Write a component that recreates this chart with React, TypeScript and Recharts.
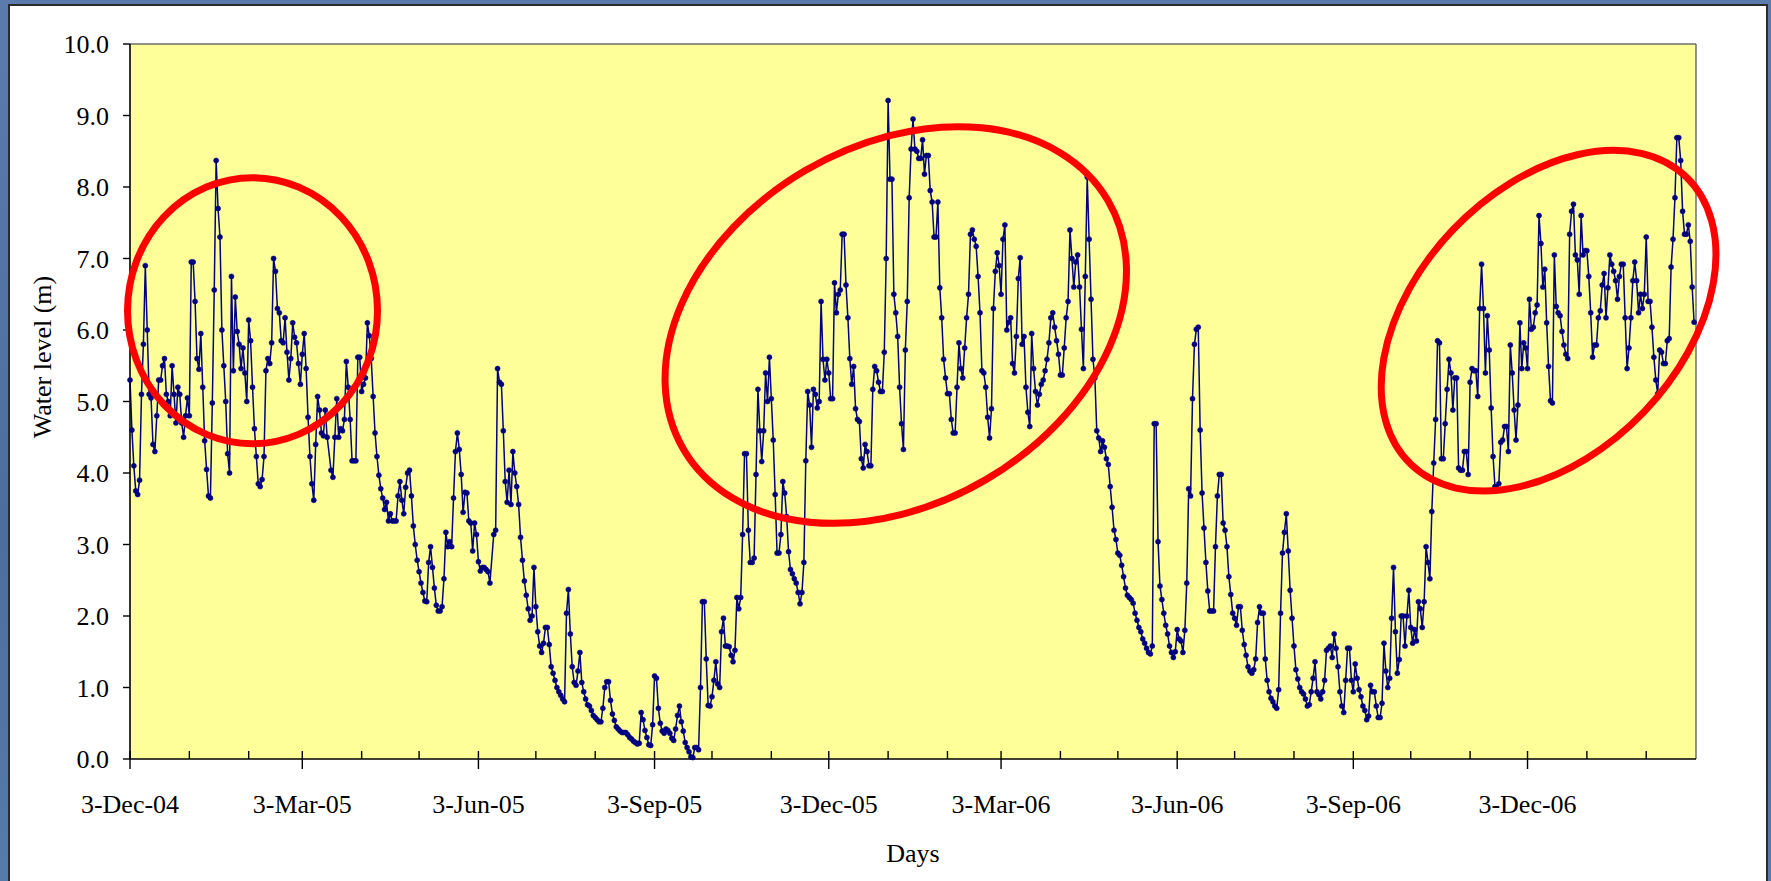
import {
  ComposedChart,
  Line,
  Scatter,
  XAxis,
  YAxis,
  CartesianGrid,
  ReferenceLine,
  Label,
} from 'recharts';

const FONT = '"Liberation Serif", "Times New Roman", serif';
const NAVY = '#000080';

// daily water level readings, [days since 3-Dec-04, level in m]
const dec04ToApr05: [number, number][] = [
  [0, 5.3], [1, 4.6], [2, 4.1], [3, 3.75], [4, 3.7], [5, 3.9], [6, 5.1], [7, 5.8], [8, 6.9], [9, 6.0],
  [10, 5.1], [11, 5.05], [12, 4.4], [13, 4.3], [14, 4.8], [15, 5.3], [16, 5.3], [17, 5.5], [18, 5.6], [19, 5.1],
  [20, 5.0], [21, 4.8], [22, 5.5], [23, 5.1], [24, 4.7], [25, 5.2], [26, 5.1], [27, 4.7], [28, 4.5], [29, 4.8],
  [30, 5.05], [31, 4.8], [32, 6.95], [33, 6.95], [34, 6.4], [35, 5.6], [36, 5.45], [37, 5.95], [38, 5.2], [39, 4.45],
  [40, 4.05], [41, 3.68], [42, 3.65], [43, 4.98], [44, 6.56], [45, 8.37], [46, 7.7], [47, 7.3], [48, 6.0], [49, 5.5],
  [50, 5.0], [51, 4.27], [52, 4.0], [53, 6.75], [54, 5.43], [55, 6.46], [56, 5.98], [57, 5.8], [58, 5.46], [59, 5.75],
  [60, 5.4], [61, 5.0], [62, 6.14], [63, 5.85], [64, 5.2], [65, 4.62], [66, 4.23], [67, 3.85], [68, 3.81], [69, 3.91],
  [70, 4.23], [71, 5.43], [72, 5.6], [73, 5.53], [74, 5.82], [75, 7.0], [76, 6.82], [77, 6.3], [78, 6.24], [79, 5.85],
  [80, 5.82], [81, 6.17], [82, 5.69], [83, 5.3], [84, 5.6], [85, 6.1], [86, 5.9], [87, 5.82], [88, 5.53], [89, 5.24],
  [90, 5.66], [91, 5.95], [92, 5.46], [93, 4.78], [94, 4.23], [95, 3.85], [96, 3.62], [97, 4.4], [98, 5.07], [99, 4.88],
  [100, 4.56], [101, 4.52], [102, 4.88], [103, 4.5], [105, 4.04], [106, 3.94], [107, 4.5], [108, 5.04], [109, 4.5],
  [110, 4.62], [111, 4.59], [112, 4.75], [113, 5.56], [114, 5.2], [115, 4.75], [116, 4.17], [117, 4.17], [118, 4.17],
  [119, 5.62], [120, 5.62], [121, 5.14], [122, 5.24], [123, 5.33], [124, 6.1], [125, 5.92], [126, 5.6], [127, 5.07],
  [128, 4.56], [129, 4.23], [130, 3.97], [131, 3.78], [132, 3.65], [133, 3.49], [134, 3.59], [135, 3.33], [136, 3.43],
  [137, 3.33],
];

const apr05ToSep05: [number, number][] = [
  [138, 3.33], [139, 3.33], [140, 3.68], [141, 3.88], [142, 3.62], [143, 3.43], [144, 3.8], [145, 4.0], [146, 4.04],
  [147, 3.68], [148, 3.26], [149, 3.0], [150, 2.78], [151, 2.62], [152, 2.46], [153, 2.33], [154, 2.21], [155, 2.2],
  [156, 2.75], [157, 2.97], [158, 2.68], [159, 2.39], [160, 2.15], [161, 2.07], [162, 2.07], [163, 2.13], [164, 2.52],
  [165, 3.17], [166, 2.97], [167, 3.04], [168, 2.97], [169, 3.65], [170, 4.3], [171, 4.56], [172, 4.33], [173, 3.98],
  [174, 3.45], [175, 3.73], [176, 3.72], [177, 3.33], [178, 3.3], [179, 2.91], [180, 3.3], [181, 3.14], [182, 2.76],
  [183, 2.63], [184, 2.68], [185, 2.68], [186, 2.65], [187, 2.62], [188, 2.46], [190, 3.14], [191, 3.2], [192, 5.46],
  [193, 5.27], [194, 5.24], [195, 4.59], [196, 3.88], [197, 3.59], [198, 4.04], [199, 3.56], [200, 4.3], [201, 4.0],
  [202, 3.81], [203, 3.56], [204, 3.1], [205, 2.78], [206, 2.49], [207, 2.29], [208, 2.1], [209, 1.94], [210, 2.0],
  [211, 2.68], [212, 2.13], [213, 1.78], [214, 1.58], [215, 1.49], [216, 1.62], [217, 1.84], [218, 1.84], [219, 1.6],
  [220, 1.29], [221, 1.2], [222, 1.1], [223, 1.0], [224, 0.94], [225, 0.89], [226, 0.84], [227, 0.8], [228, 2.04],
  [229, 2.37], [230, 1.75], [231, 1.29], [232, 1.07], [233, 1.03], [234, 1.23], [235, 1.49], [236, 1.07], [237, 0.94],
  [238, 0.84], [239, 0.76], [240, 0.74], [241, 0.68], [242, 0.61], [243, 0.58], [244, 0.55], [245, 0.52], [246, 0.52],
  [247, 0.71], [248, 1.0], [249, 1.08], [250, 1.08], [251, 0.82], [252, 0.63], [253, 0.54], [254, 0.45], [255, 0.42],
  [256, 0.39], [257, 0.37], [258, 0.37], [259, 0.37], [260, 0.34], [261, 0.3], [262, 0.28], [263, 0.25], [264, 0.23],
  [265, 0.21], [266, 0.22], [267, 0.65], [268, 0.55], [269, 0.4], [270, 0.3], [271, 0.2], [272, 0.19], [273, 0.48],
];

const sep05ToJan06: [number, number][] = [
  [274, 1.16], [275, 1.13], [276, 0.71], [277, 0.5], [278, 0.39], [279, 0.36], [280, 0.42], [281, 0.4], [282, 0.36],
  [283, 0.29], [284, 0.26], [285, 0.42], [286, 0.61], [287, 0.74], [288, 0.52], [289, 0.39], [290, 0.23], [291, 0.16],
  [292, 0.1], [293, 0.03], [294, 0.02], [295, 0.16], [296, 0.16], [297, 0.13], [298, 1.0], [299, 2.2], [300, 2.2],
  [301, 1.4], [302, 0.75], [303, 0.74], [304, 0.87], [305, 1.1], [306, 1.36], [307, 1.05], [308, 1.0], [309, 1.78],
  [310, 1.97], [311, 1.58], [312, 1.58], [313, 1.57], [314, 1.45], [315, 1.36], [316, 1.52], [317, 2.26], [318, 2.1],
  [319, 2.26], [320, 3.14], [321, 4.27], [322, 4.27], [323, 3.2], [324, 2.75], [325, 2.75], [326, 2.81], [327, 3.98],
  [328, 5.17], [329, 4.59], [330, 4.16], [331, 4.59], [332, 5.4], [333, 5.0], [334, 5.62], [335, 5.04], [336, 4.46],
  [337, 3.7], [338, 2.88], [339, 2.88], [340, 3.14], [341, 3.88], [342, 3.72], [343, 3.39], [344, 2.9], [345, 2.65],
  [346, 2.59], [347, 2.52], [348, 2.46], [349, 2.33], [350, 2.17], [351, 2.33], [352, 2.75], [353, 4.17], [354, 5.14],
  [355, 4.95], [356, 4.36], [357, 5.17], [358, 5.1], [359, 4.91], [360, 5.0], [361, 6.4], [362, 5.59], [363, 5.3],
  [364, 5.59], [365, 5.4], [366, 5.04], [367, 5.04], [368, 6.66], [369, 6.24], [370, 6.5], [371, 6.56], [372, 7.34],
  [373, 7.34], [374, 6.63], [375, 6.17], [376, 5.6], [377, 5.24], [378, 5.49], [379, 4.9], [380, 4.75], [381, 4.72],
  [382, 4.2], [383, 4.07], [384, 4.4], [385, 4.3], [386, 4.1], [387, 4.1], [388, 5.17], [389, 5.49], [390, 5.43],
  [391, 5.27], [392, 5.14], [393, 5.14], [394, 5.69], [395, 7.0], [396, 9.21], [397, 8.11], [398, 8.11], [399, 6.5],
  [400, 6.24], [401, 5.91], [402, 5.2], [403, 4.69], [404, 4.33], [405, 5.72], [406, 6.4], [407, 7.85], [408, 8.53],
  [409, 8.95], [410, 8.53], [411, 8.5],
];

const jan06ToJun06: [number, number][] = [
  [412, 8.4], [413, 8.4], [414, 8.66], [415, 8.18], [416, 8.44], [417, 8.44], [418, 7.95], [419, 7.79], [420, 7.3],
  [421, 7.3], [422, 7.79], [423, 6.59], [424, 6.17], [425, 5.59], [426, 5.33], [427, 5.11], [428, 5.11], [429, 4.75],
  [430, 4.56], [431, 4.56], [432, 5.2], [433, 5.82], [434, 5.46], [435, 5.33], [436, 5.75], [437, 6.17], [438, 6.5],
  [439, 7.34], [440, 7.4], [441, 7.27], [442, 7.17], [443, 6.75], [444, 6.24], [445, 5.43], [446, 5.4], [447, 5.2],
  [448, 4.78], [449, 4.49], [450, 4.9], [451, 6.3], [452, 6.82], [453, 7.08], [454, 6.9], [455, 6.5], [456, 7.27],
  [457, 7.47], [458, 6.0], [459, 6.11], [460, 6.17], [461, 5.53], [462, 5.4], [463, 5.91], [464, 6.72], [465, 7.01],
  [466, 5.8], [467, 5.91], [468, 5.2], [469, 4.85], [470, 4.65], [471, 5.95], [472, 5.46], [473, 5.14], [474, 4.95],
  [475, 5.1], [476, 5.24], [477, 5.3], [478, 5.43], [479, 5.59], [480, 5.82], [481, 6.17], [482, 6.24], [483, 6.04],
  [484, 5.85], [485, 5.66], [486, 5.37], [487, 5.37], [488, 5.75], [489, 6.17], [490, 6.4], [491, 7.4], [492, 7.0],
  [493, 6.6], [494, 6.95], [495, 7.05], [496, 6.6], [497, 6.01], [498, 5.46], [499, 6.75], [500, 8.14], [501, 7.27],
  [502, 6.43], [503, 5.59], [504, 5.33], [505, 4.59], [506, 4.49], [507, 4.3], [508, 4.45], [509, 4.36], [510, 4.2],
  [511, 4.12], [512, 3.81], [513, 3.52], [514, 3.2], [515, 3.07], [516, 2.88], [517, 2.85], [518, 2.71], [519, 2.55],
  [520, 2.39], [521, 2.29], [522, 2.26], [523, 2.23], [524, 2.18], [525, 2.04], [526, 1.94], [527, 1.84], [528, 1.78],
  [529, 1.68], [530, 1.62], [531, 1.55], [532, 1.49], [533, 1.47], [534, 1.58], [535, 4.69], [536, 4.69], [537, 3.04],
  [538, 2.42], [539, 2.23], [540, 2.04], [541, 1.87], [542, 1.75], [543, 1.58], [544, 1.49], [545, 1.42], [546, 1.5],
];

const jun06ToOct06: [number, number][] = [
  [547, 1.81], [548, 1.68], [549, 1.65], [550, 1.49], [551, 1.8], [552, 2.46], [553, 3.78], [554, 3.68], [555, 5.04],
  [556, 5.8], [557, 6.01], [558, 6.04], [559, 4.6], [560, 3.72], [561, 3.23], [562, 2.75], [563, 2.35], [564, 2.07],
  [565, 2.07], [566, 2.07], [567, 2.97], [568, 3.68], [569, 3.98], [570, 3.98], [571, 3.3], [572, 3.2], [573, 2.97],
  [574, 2.55], [575, 2.3], [576, 2.04], [577, 1.97], [578, 1.87], [579, 2.13], [580, 2.13], [581, 1.8], [582, 1.6],
  [583, 1.45], [584, 1.29], [585, 1.23], [586, 1.2], [587, 1.25], [588, 1.4], [589, 1.91], [590, 2.13], [591, 2.04],
  [592, 2.04], [593, 1.4], [594, 1.1], [595, 0.94], [596, 0.85], [597, 0.8], [598, 0.74], [599, 0.71], [600, 0.97],
  [601, 2.04], [602, 2.88], [603, 3.17], [604, 3.43], [605, 2.91], [606, 2.36], [607, 1.97], [608, 1.58], [609, 1.25],
  [610, 1.12], [611, 1.0], [612, 0.94], [613, 0.91], [614, 0.84], [615, 0.74], [616, 0.76], [617, 0.94], [618, 1.13],
  [619, 1.36], [620, 0.94], [621, 0.9], [622, 0.84], [623, 0.94], [624, 1.1], [625, 1.52], [626, 1.55], [627, 1.58],
  [628, 1.42], [629, 1.75], [630, 1.55], [631, 1.29], [632, 0.94], [633, 0.74], [634, 0.65], [635, 1.1], [636, 1.55],
  [637, 1.55], [638, 1.1], [639, 0.94], [640, 1.33], [641, 1.13], [642, 0.97], [643, 0.87], [644, 0.74], [645, 0.68],
  [646, 0.55], [647, 0.6], [648, 1.03], [649, 0.94], [650, 0.94], [651, 0.74], [652, 0.58], [653, 0.58], [654, 0.78],
  [655, 1.62], [656, 1.23], [657, 1.0], [658, 1.13], [659, 1.97], [660, 2.68], [661, 1.78], [662, 1.2], [663, 1.39],
  [664, 2.0], [665, 2.0], [666, 1.58], [667, 2.0], [668, 2.36], [669, 1.84], [670, 1.62], [671, 1.81], [672, 1.65],
  [673, 2.2], [674, 2.1], [675, 1.84], [676, 2.2], [677, 2.97], [678, 2.75], [679, 2.52], [680, 3.46], [681, 4.14],
  [682, 4.75], [683, 5.85],
];

const oct06ToMar07: [number, number][] = [
  [684, 5.82], [685, 4.2], [686, 4.2], [687, 4.69], [688, 5.17], [689, 5.59], [690, 5.4], [691, 4.88], [692, 5.33],
  [693, 5.33], [694, 4.07], [695, 4.04], [696, 4.04], [697, 4.3], [698, 4.3], [699, 3.98], [700, 5.27], [701, 5.46],
  [702, 5.43], [703, 5.43], [704, 5.07], [705, 6.3], [706, 6.92], [707, 6.3], [708, 5.4], [709, 6.2], [710, 5.72],
  [711, 4.91], [712, 4.23], [713, 3.81], [714, 3.78], [715, 3.85], [716, 4.43], [717, 4.46], [718, 4.65], [719, 4.65],
  [720, 4.3], [721, 5.79], [722, 5.4], [723, 4.88], [724, 4.46], [725, 4.95], [726, 6.1], [727, 5.46], [728, 5.82],
  [729, 5.75], [730, 5.46], [731, 6.43], [732, 6.01], [733, 6.04], [734, 6.24], [735, 6.35], [736, 7.6], [737, 7.21],
  [738, 6.6], [739, 6.85], [740, 6.1], [741, 5.49], [742, 5.01], [743, 4.98], [744, 7.05], [745, 6.33], [746, 6.24],
  [747, 6.2], [748, 5.98], [749, 5.79], [750, 5.66], [751, 5.6], [752, 7.34], [753, 7.66], [754, 7.76], [755, 7.05],
  [756, 6.98], [757, 6.5], [758, 7.6], [759, 7.05], [760, 7.11], [761, 7.11], [762, 6.75], [763, 6.24], [764, 5.62],
  [765, 5.79], [766, 5.79], [767, 6.17], [768, 6.27], [769, 6.63], [770, 6.79], [771, 6.17], [772, 6.59], [773, 7.05],
  [774, 6.92], [775, 6.82], [776, 6.69], [777, 6.43], [778, 6.75], [779, 6.92], [780, 6.92], [781, 6.17], [782, 5.46],
  [783, 5.75], [784, 6.17], [785, 6.69], [786, 6.95], [787, 6.69], [788, 6.24], [789, 6.5], [790, 6.3], [791, 6.5],
  [792, 7.3], [793, 6.4], [794, 6.4], [795, 6.04], [796, 5.62], [797, 5.3], [798, 5.11], [799, 5.72], [800, 5.69],
  [801, 5.53], [802, 5.53], [803, 5.85], [804, 5.88], [805, 6.88], [806, 7.27], [807, 7.85], [808, 8.69], [809, 8.69],
  [810, 8.37], [811, 7.66], [812, 7.34], [813, 7.34], [814, 7.47], [815, 7.24], [816, 6.6], [817, 6.11],
];

// circled high-water periods (centre in data units)
const circled = [
  { day: 64, level: 6.27 },
  { day: 400, level: 6.07 },
  { day: 741, level: 6.13 },
];
// ring geometry in px (semi-axes, tilt)
const ringShapes = [
  { rx: 125, ry: 133, angle: 0 },
  { rx: 246, ry: 179, angle: -30.4 },
  { rx: 199, ry: 132, angle: -46.3 },
];

const quarterLabels = [
  '3-Dec-04', '3-Mar-05', '3-Jun-05', '3-Sep-05', '3-Dec-05',
  '3-Mar-06', '3-Jun-06', '3-Sep-06', '3-Dec-06',
];
const yTicks = [0, 1, 2, 3, 4, 5, 6, 7, 8, 9, 10];

const START = Date.UTC(2004, 11, 3);
const DAY_MS = 86400000;
const LAST_DAY = 818;

// tick on the 3rd of every month, labels every third month
const monthTicks = Array.from({ length: 27 }, (_, i) =>
  Math.round((Date.UTC(2004, 11 + i, 3) - START) / DAY_MS)
);
const labelByDay = new Map<number, string>(
  quarterLabels.map((label, i) => [monthTicks[i * 3], label])
);

const waterLevel = [
  ...dec04ToApr05,
  ...apr05ToSep05,
  ...sep05ToJan06,
  ...jan06ToJun06,
  ...jun06ToOct06,
  ...oct06ToMar07,
].map(([day, level]) => ({ day, level }));

function MonthTick(props: any) {
  const { x, y, payload } = props;
  const label = labelByDay.get(payload.value);
  return (
    <g>
      <line
        x1={x}
        x2={x}
        y1={y - 8}
        y2={label ? y + 10 : y}
        stroke="#000"
        strokeWidth={1.4}
      />
      {label && (
        <text x={x} y={y + 54} textAnchor="middle" fontSize={26} fontFamily={FONT} fill="#000">
          {label}
        </text>
      )}
    </g>
  );
}

function Ring(props: any) {
  const { cx, cy, payload } = props;
  const idx = circled.findIndex((c) => c.day === payload?.day);
  const s = ringShapes[idx] ?? ringShapes[0];
  return (
    <ellipse
      cx={cx}
      cy={cy}
      rx={s.rx}
      ry={s.ry}
      transform={`rotate(${s.angle} ${cx} ${cy})`}
      fill="none"
      stroke="#ff0000"
      strokeWidth={7}
    />
  );
}

export default function App() {
  return (
    <div
      style={{
        position: 'absolute',
        left: 0,
        top: 0,
        width: 1771,
        height: 881,
        overflow: 'hidden',
        background: 'linear-gradient(180deg, #5a7bab 0%, #4c6e9f 60%, #567aa9 100%)',
      }}
    >
      <div
        style={{
          position: 'absolute',
          left: 8,
          top: 4,
          width: 1756,
          height: 900,
          background: '#fff',
          border: '2px solid #2b2b2b',
        }}
      />
      <div style={{ position: 'absolute', left: 0, top: 0 }}>
        <ComposedChart
          width={1771}
          height={881}
          margin={{ top: 44, right: 75, bottom: 0, left: 0 }}
        >
          <CartesianGrid horizontal={false} vertical={false} fill="#ffff99" />
          <XAxis
            dataKey="day"
            type="number"
            domain={[0, LAST_DAY]}
            ticks={monthTicks}
            interval={0}
            height={122}
            tickSize={0}
            tickMargin={0}
            tickLine={false}
            axisLine={{ stroke: '#000', strokeWidth: 1.6 }}
            tick={<MonthTick />}
          >
            <Label
              content={() => (
                <text x={913} y={862} textAnchor="middle" fontSize={26} fontFamily={FONT} fill="#000">
                  Days
                </text>
              )}
            />
          </XAxis>
          <YAxis
            type="number"
            domain={[0, 10]}
            ticks={yTicks}
            interval={0}
            width={130}
            tickSize={7}
            tickMargin={14}
            tickFormatter={(v: number) => v.toFixed(1)}
            tick={{ fontSize: 26, fontFamily: FONT, fill: '#000' }}
            tickLine={{ stroke: '#000', strokeWidth: 1.4 }}
            axisLine={{ stroke: '#000', strokeWidth: 1.6 }}
          >
            <Label
              content={() => (
                <text
                  x={51}
                  y={357}
                  transform="rotate(-90 51 357)"
                  textAnchor="middle"
                  fontSize={26}
                  fontFamily={FONT}
                  fill="#000"
                >
                  Water level (m)
                </text>
              )}
            />
          </YAxis>
          <ReferenceLine y={10} stroke="#6e6e6e" strokeWidth={1.5} />
          <ReferenceLine x={LAST_DAY} stroke="#6e6e6e" strokeWidth={1.5} />
          <Line
            data={waterLevel}
            dataKey="level"
            type="linear"
            stroke={NAVY}
            strokeWidth={1.5}
            dot={{ r: 2.5, fill: NAVY, stroke: NAVY, strokeWidth: 0.6 }}
            isAnimationActive={false}
          />
          <Scatter
            data={circled}
            dataKey="level"
            shape={<Ring />}
            isAnimationActive={false}
          />
        </ComposedChart>
      </div>
    </div>
  );
}
